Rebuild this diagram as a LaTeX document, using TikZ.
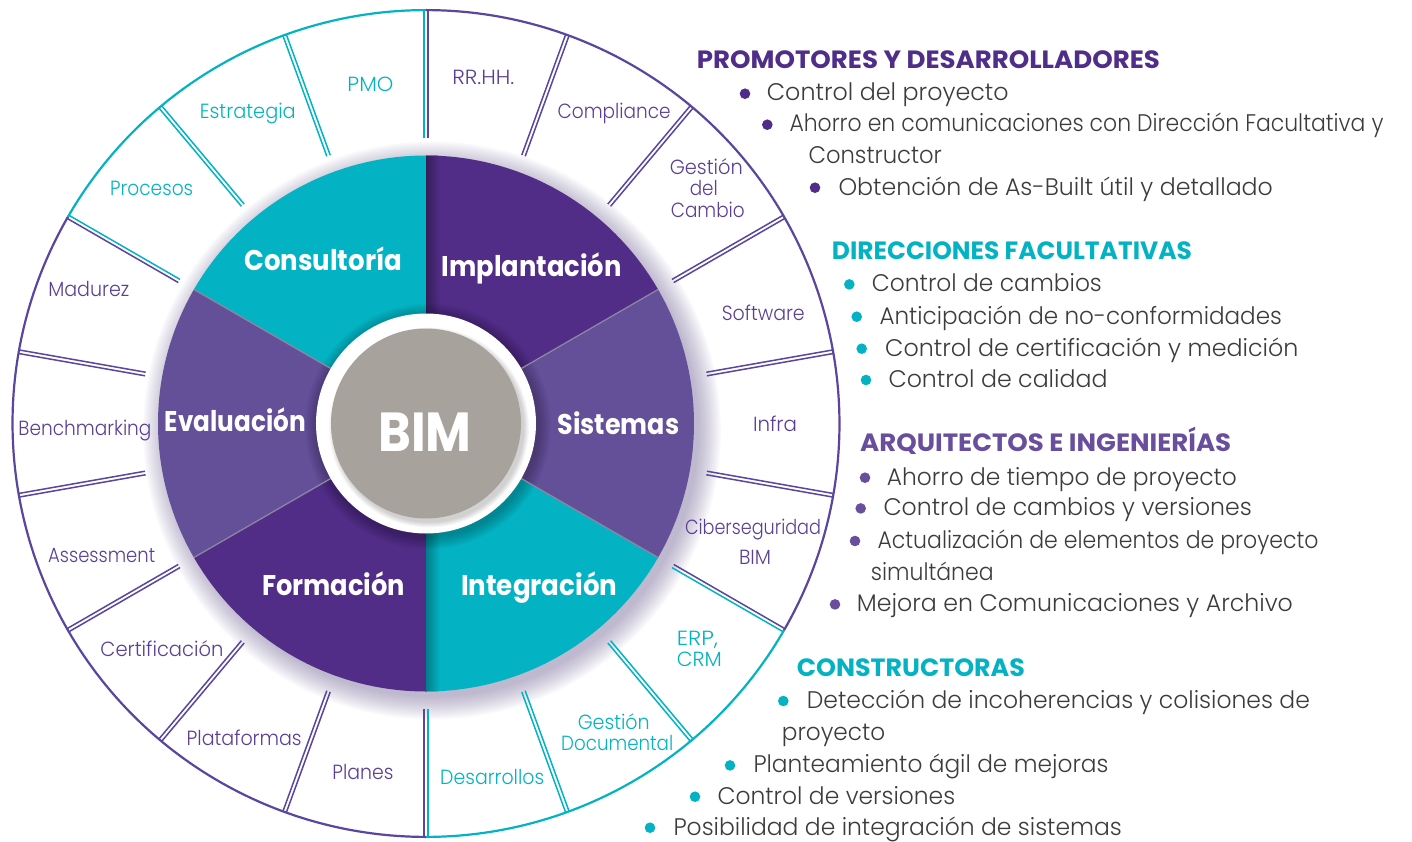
\documentclass[tikz,border=0pt]{standalone}
\usepackage{fontspec}
\setmainfont{Poppins}
\newfontfamily\lightfont{Poppins Light}
\usepackage{graphicx}
\definecolor{tealc}{HTML}{04B3C3}
\definecolor{pdark}{HTML}{512D87}
\definecolor{pmid}{HTML}{644F99}
\definecolor{pring}{HTML}{5A469E}
\definecolor{plabel}{HTML}{5B3F96}
\definecolor{bimgray}{HTML}{A8A29D}
\definecolor{bodyc}{HTML}{3C3C3B}
\definecolor{hpurple}{HTML}{4F2D88}
\definecolor{hpurple2}{HTML}{6A4E9E}
\definecolor{glowc}{HTML}{6B5A8E}
\definecolor{sepc}{HTML}{8C86A0}
\newcommand\fitw[2]{\resizebox{#1pt}{\height}{#2}}
\tikzset{
  wlab/.style={font=\lightfont\fontsize{20.5}{22}\selectfont, inner sep=0pt, anchor=base},
  slab/.style={font=\fontsize{28.5}{30}\selectfont\bfseries, text=white, inner sep=0pt, anchor=base},
  head/.style={font=\fontsize{25}{27}\selectfont\bfseries, inner sep=0pt, anchor=base west},
  item/.style={font=\lightfont\fontsize{24}{26}\selectfont, text=bodyc, inner sep=0pt, anchor=base west},
  ringline/.style={line width=2.2pt},
  divline/.style={line width=1.5pt},
}
\begin{document}
\begin{tikzpicture}[x=1pt,y=1pt]
\useasboundingbox[fill=white] (-426,-417.5) rectangle (986,423.5);
% glow around the coloured wheel
\foreach \i in {1,...,14} \fill[glowc,opacity=0.035] (6,-7) circle ({265+1.7*\i});
% coloured sectors
\fill[tealc] (0,0) -- (90:268) arc (90:150:268) -- cycle;
\fill[pmid]  (0,0) -- (150:268) arc (150:210:268) -- cycle;
\fill[pdark] (0,0) -- (210:268) arc (210:270:268) -- cycle;
\fill[tealc] (0,0) -- (270:268) arc (270:330:268) -- cycle;
\fill[pmid]  (0,0) -- (330:268) arc (330:390:268) -- cycle;
\fill[pdark] (0,0) -- (30:268) arc (30:90:268) -- cycle;
\begin{scope}
  \clip (0,0) circle (268);
  \shade[left color=black!35!pdark, right color=pdark] (0,100) rectangle (14,270);
  \shade[left color=black!30!tealc, right color=tealc] (0,-270) rectangle (14,-100);
  \foreach \i in {1,...,8} \fill[black,opacity=0.03] (2,-3) circle ({110+1.6*\i});
\end{scope}
\foreach \a in {30,150,210,330} \draw[sepc, line width=1.3pt] (\a:110) -- (\a:268);
% white ring and BIM disc
\fill[white] (0,0) circle (110);
\foreach \i in {1,...,6} \fill[black,opacity=0.03] (3,-4) circle ({94+\i});
\fill[bimgray] (0,0) circle (95);
% outer ring
\draw[ringline, tealc] (90:413.4) arc (90:150:413.4);
\draw[ringline, pring] (150:413.4) arc (150:270:413.4);
\draw[ringline, tealc] (270:413.4) arc (270:330:413.4);
\draw[ringline, pring] (330:413.4) arc (330:450:413.4);
% double dividers: angle / colour on ccw side / colour on cw side
\foreach \a/\ccw/\cw in {10/pring/pring, 30/pring/pring, 50/pring/pring, 70/pring/pring,
  90/tealc/pring, 110/tealc/tealc, 130/tealc/tealc, 150/pring/tealc, 170/pring/pring,
  190/pring/pring, 210/pring/pring, 230/pring/pring, 250/pring/pring, 270/tealc/pring,
  290/tealc/tealc, 310/tealc/tealc, 330/pring/tealc, 350/pring/pring}{
  \draw[divline, \ccw, rotate=\a] (285,1.8) -- (413,1.8);
  \draw[divline, \cw, rotate=\a] (285,-1.8) -- (413,-1.8);
}
% texts in pixel coordinates
\begin{scope}[shift={(-426,423.5)}, yscale=-1]
  \node[font=\fontsize{55}{57}\selectfont\bfseries, text=white, inner sep=0pt, anchor=base] (bim) at (425,451.7) {\fitw{93.3}{BIM}};
  \node[slab] (consultoria) at (323.3,270) {\fitw{158}{Consultoría}};
  \node[slab] (implantacion) at (531.7,276.7) {\fitw{180}{Implantación}};
  \node[slab] (sistemas) at (618.5,434) {\fitw{121.7}{Sistemas}};
  \node[slab] (evaluacion) at (235.5,431.7) {\fitw{141}{Evaluación}};
  \node[slab] (formacion) at (333.7,595) {\fitw{143}{Formación}};
  \node[slab] (integracion) at (539.2,595) {\fitw{156.3}{Integración}};
  % ring labels
  \node[wlab, text=tealc] (pmo) at (370.5,91.7) {\fitw{46}{PMO}};
  \node[wlab, text=tealc] (estrategia) at (247.8,119) {\fitw{96}{Estrategia}};
  \node[wlab, text=tealc] (procesos) at (151.7,195) {\fitw{83}{Procesos}};
  \node[wlab, text=plabel] (madurez) at (88.8,296.7) {\fitw{81}{Madurez}};
  \node[wlab, text=plabel] (benchmarking) at (85,435) {\fitw{133}{Benchmarking}};
  \node[wlab, text=plabel] (assessment) at (101.7,562.7) {\fitw{107}{Assessment}};
  \node[wlab, text=plabel] (certificacion) at (162,656) {\fitw{123}{Certificación}};
  \node[wlab, text=plabel] (plataformas) at (244.2,745) {\fitw{115}{Plataformas}};
  \node[wlab, text=plabel] (planes) at (363,779) {\fitw{61}{Planes}};
  \node[wlab, text=tealc] (desarrollos) at (492.2,784) {\fitw{104}{Desarrollos}};
  \node[wlab, text=tealc] (gd1) at (613.8,729.3) {\fitw{72}{Gestión}};
  \node[wlab, text=tealc] (gd2) at (617.2,750.7) {\fitw{112}{Documental}};
  \node[wlab, text=tealc, anchor=base west] (erp) at (676.7,645.7) {\fitw{41}{ERP,}};
  \node[wlab, text=tealc, anchor=base west] (crm) at (676.7,666) {\fitw{45}{CRM}};
  \node[wlab, text=plabel] (ciber) at (753,534.3) {\fitw{136}{Ciberseguridad}};
  \node[wlab, text=plabel] (ciberbim) at (755,564) {\fitw{32}{BIM}};
  \node[wlab, text=plabel] (infra) at (775,431) {\fitw{44}{Infra}};
  \node[wlab, text=plabel] (software) at (763.3,320) {\fitw{83}{Software}};
  \node[wlab, text=plabel] (gc1) at (706.3,174) {\fitw{73}{Gestión}};
  \node[wlab, text=plabel] (gc2) at (703.8,195.7) {\fitw{28}{del}};
  \node[wlab, text=plabel] (gc3) at (707.8,217.3) {\fitw{74}{Cambio}};
  \node[wlab, text=plabel] (compliance) at (614.2,119) {\fitw{113}{Compliance}};
  \node[wlab, text=plabel] (rrhh) at (483.3,84.3) {\fitw{62}{RR.HH.}};
  % right-hand list
  \node[head, text=hpurple] (h1) at (696.7,68.3) {\fitw{463}{PROMOTORES Y DESARROLLADORES}};
  \node[head, text=tealc] (h2) at (831.7,259.3) {\fitw{360}{DIRECCIONES FACULTATIVAS}};
  \node[head, text=hpurple2] (h3) at (860,451.7) {\fitw{371}{ARQUITECTOS E INGENIERÍAS}};
  \node[head, text=tealc] (h4) at (796.7,676.7) {\fitw{228}{CONSTRUCTORAS}};
  \foreach \n/\dx/\x/\y/\w/\c/\t in {
    a1/745/766.7/101/241.7/hpurple/{Control del proyecto},
    a2/767.3/789.3/132/594/hpurple/{Ahorro en comunicaciones con Dirección Facultativa y},
    a4/815/838.3/195/434.4/hpurple/{Obtención de As-Built útil y detallado},
    b1/849.3/871.7/291.7/230/tealc/{Control de cambios},
    b2/856.7/879.3/324/402.4/tealc/{Anticipación de no-conformidades},
    b3/861.7/885/356/413.3/tealc/{Control de certificación y medición},
    b4/866/888.3/387.3/219/tealc/{Control de calidad},
    c1/865/886.7/485/350/hpurple2/{Ahorro de tiempo de proyecto},
    c2/860.7/883.3/515.7/368.3/hpurple2/{Control de cambios y versiones},
    c3/855/877.3/548.3/441/hpurple2/{Actualización de elementos de proyecto},
    c5/835/856.7/611.7/436/hpurple2/{Mejora en Comunicaciones y Archivo},
    d1/783.3/806.7/708.3/503/tealc/{Detección de incoherencias y colisiones de},
    d3/730/753.3/772.7/355/tealc/{Planteamiento ágil de mejoras},
    d4/695/717.3/804/237.7/tealc/{Control de versiones},
    d5/650/673.3/835/448.4/tealc/{Posibilidad de integración de sistemas}}{
    \node[item] (\n) at (\x,\y) {\fitw{\w}{\t}};
    \fill[\c] (\dx,\y-7.3) circle (5.3);
  }
  \node[item] (a3) at (808.3,163.3) {\fitw{133.4}{Constructor}};
  \node[item] (c4) at (870.7,580) {\fitw{122.7}{simultánea}};
  \node[item] (d2) at (781.7,740) {\fitw{103.3}{proyecto}};
\end{scope}
\end{tikzpicture}
\end{document}
